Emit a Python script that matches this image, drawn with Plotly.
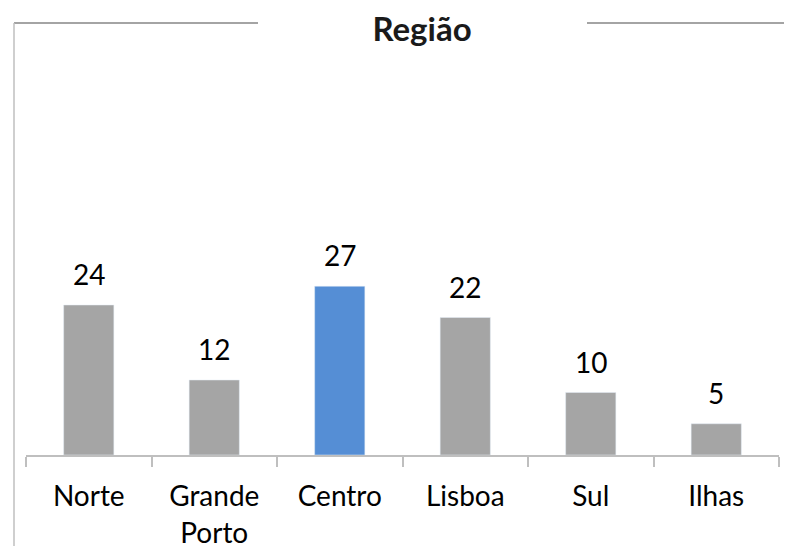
import plotly.graph_objects as go

categories = ["Norte", "Grande<br>Porto", "Centro", "Lisboa", "Sul", "Ilhas"]
values = [24, 12, 27, 22, 10, 5]
highlight = "Centro"

GRAY = "#A5A5A5"
BLUE = "#558ED5"
FONT = "Lato, 'Open Sans', sans-serif"

colors = [BLUE if c == highlight else GRAY for c in categories]

fig = go.Figure(go.Bar(
    x=categories, y=values, marker_color=colors, width=0.4,
    hoverinfo="x+y",
))

for c, v in zip(categories, values):
    fig.add_annotation(x=c, y=v, text=str(v), showarrow=False,
                       yanchor="bottom", yshift=12,
                       font=dict(family=FONT, size=28, color="black"))

OFF = 8  # page body margin
W, H = 792, 546
L, R, T, B = 26 - OFF, 792 - 779 + OFF, 205 - OFF, 546 - 455 + OFF
pw, ph = W - L - R, H - T - B

def px(x):
    return (x - OFF - L) / pw

def py(y):
    return (H - B - (y - OFF)) / ph

line_dark = dict(color="#868686", width=1.5)
line_light = dict(color="#BFBFBF", width=1.5)
fig.add_shape(type="line", xref="paper", yref="paper", x0=px(14), x1=px(258), y0=py(23), y1=py(23), line=line_dark)
fig.add_shape(type="line", xref="paper", yref="paper", x0=px(587), x1=px(800), y0=py(23), y1=py(23), line=line_dark)
fig.add_shape(type="line", xref="paper", yref="paper", x0=px(14), x1=px(14), y0=py(23), y1=py(560), line=line_light)

fig.update_layout(
    width=W, height=H,
    margin=dict(l=L, r=R, t=T, b=B, autoexpand=False),
    paper_bgcolor="white", plot_bgcolor="white",
    showlegend=False,
    title=dict(text="<b>Região</b>", x=(422 - OFF) / W, xanchor="center", y=1 - (29 - OFF) / H, yanchor="middle",
               font=dict(family=FONT, size=33, color="#1a1a1a")),
    xaxis=dict(showline=True, linecolor="#BFBFBF", linewidth=1.5, automargin=False,
               ticks="outside", tickson="boundaries", ticklen=10, tickcolor="#BFBFBF", tickwidth=1.5,
               tickfont=dict(family=FONT, size=28, color="black"),
               ticklabelstandoff=16, showgrid=False),
    yaxis=dict(range=[0, 40], visible=False, showgrid=False, automargin=False),
)

fig.write_html("out.html")
